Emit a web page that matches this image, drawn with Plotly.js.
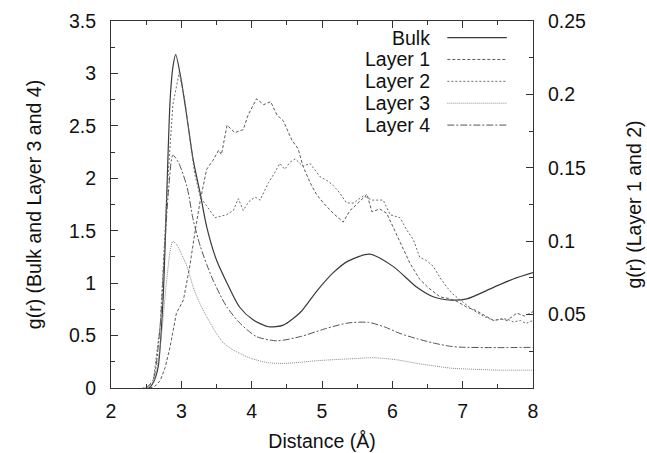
<!DOCTYPE html>
<html>
<head>
<meta charset="utf-8">
<script src="https://cdn.plot.ly/plotly-3.0.1.min.js"></script>
<style>html,body{margin:0;padding:0;background:#fff;}#chart{width:647px;height:453px;}</style>
</head>
<body>
<div id="chart"></div>
<script>
// ---- Data ----
const seriesNames = ["Bulk", "Layer 1", "Layer 2", "Layer 3", "Layer 4"];

const bulkX = [2.45, 2.54, 2.60, 2.67, 2.74, 2.79, 2.84, 2.88, 2.92, 3.00, 3.08, 3.17, 3.27, 3.36, 3.50, 3.65, 3.83, 4.02, 4.24, 4.45, 4.69, 4.92, 5.16, 5.37, 5.68, 6.01, 6.35, 6.58, 6.84, 7.06, 7.44, 7.72, 8.00];
const bulkY = [0.00, 0.00, 0.05, 0.20, 0.84, 1.79, 2.74, 3.06, 3.18, 2.93, 2.58, 2.17, 1.85, 1.54, 1.22, 1.00, 0.77, 0.65, 0.584, 0.60, 0.72, 0.92, 1.10, 1.21, 1.276, 1.16, 0.96, 0.87, 0.838, 0.85, 0.96, 1.04, 1.10];

// Layer 1 and Layer 2 are plotted against the right axis
const layer1X = [2.55, 2.62, 2.70, 2.77, 2.84, 2.93, 3.03, 3.12, 3.20, 3.27, 3.36, 3.45, 3.53, 3.57, 3.65, 3.76, 3.88, 3.95, 4.07, 4.17, 4.27, 4.36, 4.45, 4.57, 4.66, 4.73, 4.83, 4.92, 5.02, 5.16, 5.30, 5.40, 5.47, 5.64, 5.71, 5.82, 5.92, 6.06, 6.16, 6.25, 6.39, 6.52, 6.68, 6.80, 6.92, 7.06, 7.18, 7.29, 7.44, 7.55, 7.63, 7.77, 7.88, 8.00];
const layer1Y = [0.000, 0.001, 0.005, 0.014, 0.028, 0.051, 0.060, 0.083, 0.108, 0.128, 0.149, 0.155, 0.162, 0.159, 0.179, 0.174, 0.176, 0.186, 0.197, 0.193, 0.195, 0.186, 0.182, 0.169, 0.163, 0.151, 0.140, 0.132, 0.126, 0.119, 0.113, 0.121, 0.124, 0.132, 0.120, 0.122, 0.119, 0.105, 0.095, 0.085, 0.074, 0.068, 0.062, 0.061, 0.059, 0.055, 0.053, 0.050, 0.046, 0.047, 0.046, 0.051, 0.049, 0.052];

const layer2X = [2.50, 2.60, 2.70, 2.80, 2.88, 2.97, 3.05, 3.12, 3.19, 3.27, 3.36, 3.48, 3.56, 3.64, 3.74, 3.81, 3.88, 3.96, 4.05, 4.12, 4.24, 4.32, 4.40, 4.47, 4.55, 4.62, 4.73, 4.83, 4.97, 5.08, 5.16, 5.25, 5.35, 5.45, 5.59, 5.71, 5.87, 5.97, 6.11, 6.20, 6.30, 6.39, 6.48, 6.58, 6.68, 6.77, 6.86, 6.96, 7.06, 7.15, 7.29, 7.44, 7.55, 7.63, 7.72, 7.82, 7.90, 8.00];
const layer2Y = [0.000, 0.004, 0.043, 0.136, 0.193, 0.215, 0.196, 0.169, 0.146, 0.130, 0.124, 0.116, 0.117, 0.118, 0.121, 0.129, 0.121, 0.127, 0.130, 0.128, 0.140, 0.146, 0.153, 0.149, 0.154, 0.156, 0.151, 0.153, 0.144, 0.141, 0.138, 0.133, 0.126, 0.126, 0.131, 0.128, 0.128, 0.118, 0.116, 0.108, 0.101, 0.089, 0.087, 0.083, 0.075, 0.069, 0.064, 0.060, 0.056, 0.053, 0.049, 0.046, 0.047, 0.047, 0.045, 0.046, 0.044, 0.046];

const layer3X = [2.50, 2.60, 2.70, 2.78, 2.84, 2.88, 2.94, 3.00, 3.08, 3.17, 3.26, 3.36, 3.48, 3.60, 3.72, 3.83, 4.00, 4.24, 4.45, 4.69, 4.92, 5.16, 5.45, 5.73, 6.05, 6.35, 6.60, 6.82, 7.10, 7.53, 8.00];
const layer3Y = [0.00, 0.05, 0.40, 0.95, 1.30, 1.40, 1.36, 1.28, 1.16, 0.96, 0.81, 0.68, 0.54, 0.43, 0.37, 0.33, 0.28, 0.24, 0.235, 0.245, 0.26, 0.27, 0.28, 0.289, 0.27, 0.235, 0.21, 0.19, 0.18, 0.17, 0.17];

const layer4X = [2.50, 2.60, 2.70, 2.76, 2.82, 2.88, 2.96, 3.08, 3.17, 3.27, 3.36, 3.45, 3.55, 3.65, 3.83, 4.07, 4.36, 4.69, 5.07, 5.37, 5.66, 5.90, 6.11, 6.35, 6.58, 6.80, 6.96, 7.50, 8.00];
const layer4Y = [0.00, 0.08, 0.60, 1.30, 1.90, 2.22, 2.15, 1.92, 1.60, 1.35, 1.18, 1.03, 0.89, 0.77, 0.62, 0.49, 0.45, 0.49, 0.57, 0.62, 0.626, 0.58, 0.52, 0.47, 0.43, 0.40, 0.39, 0.385, 0.388];

// Tick labels
const xTicks = [2, 3, 4, 5, 6, 7, 8];
const yTicks = [0, 0.5, 1, 1.5, 2, 2.5, 3, 3.5];
const y2Ticks = [0.05, 0.1, 0.15, 0.2, 0.25];

// ---- Styles ----
const FONT = "Liberation Sans, Arial, Helvetica, sans-serif";
const FS = 19.5;
const styles = [
  {color: "#3a3a3a", dash: "solid", width: 1.2, yaxis: "y", shape: "spline"},
  {color: "#5a5a5a", dash: "3px,2px", width: 1, yaxis: "y2", shape: "linear"},
  {color: "#6a6a6a", dash: "2px,2px", width: 1, yaxis: "y2", shape: "linear"},
  {color: "#8a8a8a", dash: "1px,1px", width: 1, yaxis: "y", shape: "spline"},
  {color: "#555555", dash: "7px,2px,2px,2px", width: 1, yaxis: "y", shape: "spline"}
];
const xs = [bulkX, layer1X, layer2X, layer3X, layer4X];
const ys = [bulkY, layer1Y, layer2Y, layer3Y, layer4Y];

const traces = seriesNames.map((n, i) => ({
  x: xs[i], y: ys[i], name: n, type: "scatter", mode: "lines",
  yaxis: styles[i].yaxis,
  line: {color: styles[i].color, dash: styles[i].dash, width: styles[i].width, shape: styles[i].shape, smoothing: 0.7},
  showlegend: false, hoverinfo: "skip", cliponaxis: true
}));

// custom legend (text right-aligned, sample line to the right)
const annotations = [];
const shapes = [];
const legTop = 0.9548, legStep = 0.0596;
seriesNames.forEach((n, i) => {
  const yy = legTop - i * legStep;
  annotations.push({xref: "paper", yref: "paper", x: 0.760, y: yy, text: n, showarrow: false,
    xanchor: "right", yanchor: "middle", font: {family: FONT, size: FS, color: "#111"}});
  shapes.push({type: "line", xref: "paper", yref: "paper", x0: 0.797, x1: 0.938, y0: yy, y1: yy,
    line: {color: styles[i].color, dash: styles[i].dash, width: styles[i].width}});
});

const axisCommon = {
  showgrid: false, zeroline: false, showline: true, linecolor: "#333", linewidth: 1,
  ticks: "inside", ticklen: 7, tickcolor: "#333", tickwidth: 1,
  tickfont: {family: FONT, size: FS, color: "#111"}
};

const layout = {
  width: 647, height: 453,
  margin: {l: 111, r: 114, t: 21, b: 65, pad: 0},
  paper_bgcolor: "#fff", plot_bgcolor: "#fff",
  font: {family: FONT, size: FS, color: "#111"},
  showlegend: false,
  xaxis: Object.assign({}, axisCommon, {
    range: [2, 8], tickvals: xTicks, ticktext: xTicks.map(String), mirror: "ticks",
    minor: {ticks: "inside", ticklen: 4, dtick: 0.5, tickcolor: "#333"},
    ticklabelstandoff: 6,
    title: {text: "Distance (Å)", font: {family: FONT, size: FS, color: "#111"}, standoff: 12}
  }),
  yaxis: Object.assign({}, axisCommon, {
    range: [0, 3.5], tickvals: yTicks, ticktext: yTicks.map(String),
    minor: {ticks: "inside", ticklen: 4, dtick: 0.25, tickcolor: "#333"},
    ticklabelstandoff: 10,
    title: {text: "g(r) (Bulk and Layer 3 and 4)", font: {family: FONT, size: FS, color: "#111"}, standoff: 22}
  }),
  yaxis2: Object.assign({}, axisCommon, {
    range: [0, 0.25], overlaying: "y", side: "right", tickvals: y2Ticks, ticktext: y2Ticks.map(String),
    minor: {ticks: "inside", ticklen: 4, dtick: 0.025, tickcolor: "#333"},
    ticklabelstandoff: 10,
    title: {text: "g(r) (Layer 1 and 2)", font: {family: FONT, size: FS, color: "#111"}, standoff: 42}
  }),
  annotations: annotations,
  shapes: shapes
};

Plotly.newPlot("chart", traces, layout, {staticPlot: true, displayModeBar: false});
</script>
</body>
</html>
